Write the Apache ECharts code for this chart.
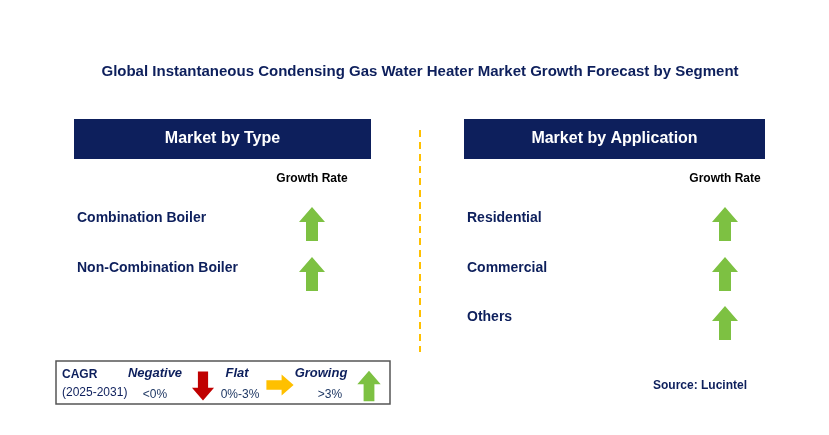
<!DOCTYPE html>
<html><head><meta charset="utf-8">
<script src="https://cdn.jsdelivr.net/npm/echarts@6/dist/echarts.min.js"></script>
<style>html,body{margin:0;padding:0;background:#fff}#c{width:829px;height:435px}</style>
</head><body><div id="c"></div>
<script>
const title = "Global Instantaneous Condensing Gas Water Heater Market Growth Forecast by Segment";
const typeCategories = ["Combination Boiler", "Non-Combination Boiler"];
const typeTrend = ["up", "up"];
const appCategories = ["Residential", "Commercial", "Others"];
const appTrend = ["up", "up", "up"];
const legendLabels = ["Negative", "Flat", "Growing"];
const legendRanges = ["<0%", "0%-3%", ">3%"];

const chart = echarts.init(document.getElementById('c'));
const navy = '#0d1f5c', green = '#7dc142', red = '#c00000', orange = '#ffc000';

function arrow(dir, cx, cy, s, color) {
  let pts;
  const hw = 13*s, sw = 6*s, hh = 15*s, h = 17*s;
  if (dir === 'up') pts = [[cx, cy-h],[cx+hw, cy-h+hh],[cx+sw, cy-h+hh],[cx+sw, cy+h],[cx-sw, cy+h],[cx-sw, cy-h+hh],[cx-hw, cy-h+hh]];
  else if (dir === 'down') pts = [[cx, cy+h],[cx+hw, cy+h-hh],[cx+sw, cy+h-hh],[cx+sw, cy-h],[cx-sw, cy-h],[cx-sw, cy+h-hh],[cx-hw, cy+h-hh]];
  else pts = [[cx+h, cy],[cx+h-hh, cy+hw],[cx+h-hh, cy+sw],[cx-h, cy+sw],[cx-h, cy-sw],[cx+h-hh, cy-sw],[cx+h-hh, cy-hw]];
  return {type:'polygon', shape:{points:pts}, style:{fill:color}};
}
const colorOf = {up: green, down: red, flat: orange};
const txt = (x, y, t, o={}) => ({type:'text', x, y, style:Object.assign({text:t, font:'bold 14px Arial', fill:navy, textVerticalAlign:'middle'}, o)});

const g = [];
g.push(txt(420, 72, title, {textAlign:'center', font:'bold 15px Arial'}));
function panel(x, w, header, cats, trends, arrowX, labelX) {
  g.push({type:'rect', shape:{x, y:119, width:w, height:40}, style:{fill:navy}});
  g.push(txt(x+w/2, 139, header, {textAlign:'center', fill:'#fff', font:'bold 16px Arial'}));
  g.push(txt(arrowX, 179, 'Growth Rate', {textAlign:'center', fill:'#000', font:'bold 12px Arial'}));
  const ys = [218, 268, 317];
  cats.forEach((c, i) => {
    g.push(txt(labelX, ys[i], c, {font:'bold 14px Arial'}));
    g.push(arrow(trends[i], arrowX, ys[i]+6, 1, colorOf[trends[i]]));
  });
}
panel(74, 297, 'Market by Type', typeCategories, typeTrend, 312, 77);
panel(464, 301, 'Market by Application', appCategories, appTrend, 725, 467);
g.push({type:'line', shape:{x1:420, y1:130, x2:420, y2:352}, style:{stroke:orange, lineWidth:2, lineDash:[7,5]}});
g.push({type:'rect', shape:{x:56, y:361, width:334, height:43}, style:{fill:'#fff', stroke:'#555', lineWidth:1.5}});
g.push(txt(62, 375, 'CAGR', {font:'bold 12px Arial'}));
g.push(txt(62, 393, '(2025-2031)', {font:'12px Arial'}));
const lx = [155, 237, 321], rx = [155, 240, 330];
legendLabels.forEach((l,i)=>{
  g.push(txt(lx[i], 373, l, {textAlign:'center', font:'italic bold 13px Arial'}));
  g.push(txt(rx[i], 395, legendRanges[i], {textAlign:'center', font:'12px Arial', fill:'#1f3864'}));
});
g.push(arrow('down', 203, 386, 0.85, red));
g.push(arrow('flat', 280, 385, 0.8, orange));
g.push(arrow('up', 369, 386, 0.9, green));
g.push(txt(700, 386, 'Source: Lucintel', {textAlign:'center', font:'bold 12px Arial'}));

chart.setOption({animation:false, graphic:{elements:g}});
</script></body></html>
